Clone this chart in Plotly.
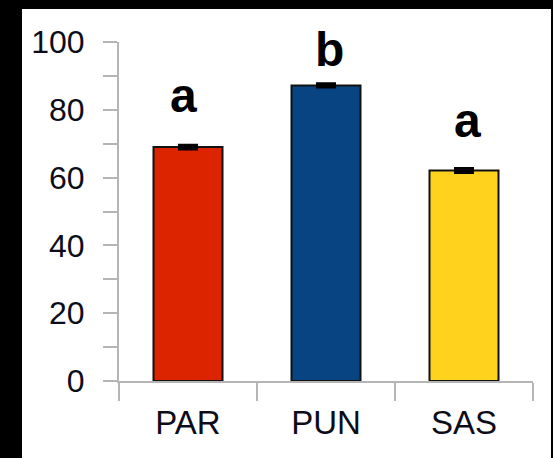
import plotly.graph_objects as go

# Group means, standard errors and significance letters
groups = ["PAR", "PUN", "SAS"]
means = [69.0, 87.2, 62.1]
errors = [0.5, 0.4, 0.5]
letters = ["a", "b", "a"]
letter_y = [79.0, 92.6, 71.7]
bar_colors = ["#DC2400", "#084482", "#FFD21E"]

y_ticks = [0, 20, 40, 60, 80, 100]

FONT = "Liberation Sans, Arial, sans-serif"
AXIS_GRAY = "#b5b5b5"
TEXT_COLOR = "#0d0d1a"

fig = go.Figure()
fig.add_trace(go.Bar(
    x=groups,
    y=means,
    width=0.5,
    marker=dict(color=bar_colors, line=dict(color="#111111", width=2)),
    error_y=dict(type="data", array=errors, visible=True,
                 color="#000000", thickness=3.5, width=10),
    showlegend=False,
))

for g, t, ly in zip(groups, letters, letter_y):
    fig.add_annotation(x=g, y=ly, text=t, showarrow=False,
                       yanchor="bottom", xshift=-5 if g == "PAR" else 3,
                       yshift=-11,
                       font=dict(family=FONT, size=48, color="#000000", weight="bold"))

# White panel on the black page
fig.add_shape(type="rect", xref="paper", yref="paper",
              x0=-0.2343, x1=1.0435, y0=-0.3, y1=1.0973,
              fillcolor="white", line=dict(width=0), layer="below")

fig.update_layout(
    width=553, height=458,
    margin=dict(l=119, r=20, t=42, b=77),
    paper_bgcolor="#000000",
    plot_bgcolor="white",
    bargap=0.5,
)
fig.update_xaxes(
    range=[-0.5, 2.5],
    showline=True, linecolor=AXIS_GRAY, linewidth=2,
    ticks="outside", tickson="boundaries", ticklen=18,
    tickcolor=AXIS_GRAY, tickwidth=2,
    ticklabelstandoff=11,
    showgrid=False, zeroline=False,
    tickfont=dict(family=FONT, size=33, color=TEXT_COLOR),
)
fig.update_yaxes(
    range=[0, 100],
    tickvals=y_ticks,
    showline=True, linecolor=AXIS_GRAY, linewidth=2,
    ticks="outside", ticklen=14, tickcolor=AXIS_GRAY, tickwidth=2,
    minor=dict(dtick=10, ticks="outside", ticklen=14,
               tickcolor=AXIS_GRAY, tickwidth=2, showgrid=False),
    ticklabelstandoff=12,
    showgrid=False, zeroline=False,
    tickfont=dict(family=FONT, size=32, color=TEXT_COLOR),
)

fig.write_html("out.html")
